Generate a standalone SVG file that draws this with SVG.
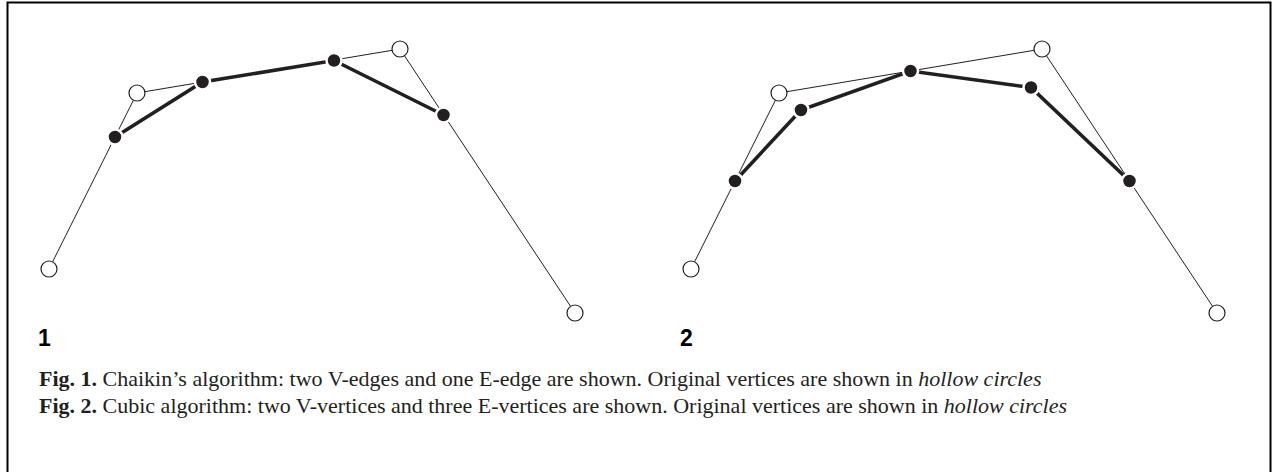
<svg xmlns="http://www.w3.org/2000/svg" width="1272" height="472" viewBox="0 0 1272 472">
<style>
.thin{fill:none;stroke:#231f20;stroke-width:1;}
.thick{fill:none;stroke:#231f20;stroke-width:3.6;}
.hollow{fill:#fff;stroke:#231f20;stroke-width:1.2;}
.solid{fill:#231f20;stroke:#fff;stroke-width:2.5;}
.lbl{font-family:"Liberation Sans",Arial,sans-serif;font-weight:bold;font-size:23px;fill:#000;}
.cap{font-family:"Liberation Serif","Times New Roman",serif;font-size:22px;fill:#231f20;}
</style>
<rect x="7.5" y="2.5" width="1263" height="500" fill="none" stroke="#000" stroke-width="2"/>
<g id="connectors">
<polyline class="thin" points="49,269 137,93 400,49 575,313"/>
<polyline class="thick" points="115,137 202.5,82 334,60.5 443.5,115"/>
<polyline class="thin" points="691,269 779,93 1042,49 1217,313"/>
<polyline class="thick" points="735,181 801,110 910.5,71 1031,87.5 1129.5,181"/>
</g>
<g id="fig1-P0"><circle class="hollow" cx="49" cy="269" r="8"/></g>
<g id="fig1-P1"><circle class="hollow" cx="137" cy="93" r="8"/></g>
<g id="fig1-P2"><circle class="hollow" cx="400" cy="49" r="8"/></g>
<g id="fig1-P3"><circle class="hollow" cx="575" cy="313" r="8"/></g>
<g id="fig1-Q0"><circle class="solid" cx="115" cy="137" r="7.5"/></g>
<g id="fig1-Q1"><circle class="solid" cx="202.5" cy="82" r="7.5"/></g>
<g id="fig1-Q2"><circle class="solid" cx="334" cy="60.5" r="7.5"/></g>
<g id="fig1-Q3"><circle class="solid" cx="443.5" cy="115" r="7.5"/></g>
<g id="fig2-P0"><circle class="hollow" cx="691" cy="269" r="8"/></g>
<g id="fig2-P1"><circle class="hollow" cx="779" cy="93" r="8"/></g>
<g id="fig2-P2"><circle class="hollow" cx="1042" cy="49" r="8"/></g>
<g id="fig2-P3"><circle class="hollow" cx="1217" cy="313" r="8"/></g>
<g id="fig2-E0"><circle class="solid" cx="735" cy="181" r="7.5"/></g>
<g id="fig2-V1"><circle class="solid" cx="801" cy="110" r="7.5"/></g>
<g id="fig2-E1"><circle class="solid" cx="910.5" cy="71" r="7.5"/></g>
<g id="fig2-V2"><circle class="solid" cx="1031" cy="87.5" r="7.5"/></g>
<g id="fig2-E2"><circle class="solid" cx="1129.5" cy="181" r="7.5"/></g>
<text class="lbl" x="38" y="346">1</text>
<text class="lbl" x="680" y="346">2</text>
<text class="cap" x="39" y="386"><tspan font-weight="bold">Fig. 1.</tspan> Chaikin’s algorithm: two V-edges and one E-edge are shown. Original vertices are shown in <tspan font-style="italic">hollow circles</tspan></text>
<text class="cap" x="39" y="413"><tspan font-weight="bold">Fig. 2.</tspan> Cubic algorithm: two V-vertices and three E-vertices are shown. Original vertices are shown in <tspan font-style="italic">hollow circles</tspan></text>
</svg>
